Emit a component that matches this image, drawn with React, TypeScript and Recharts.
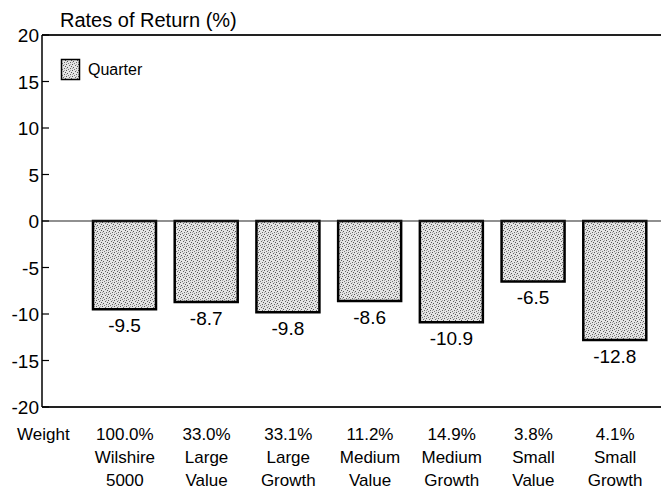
import React from "react";
import {
  BarChart,
  Bar,
  XAxis,
  YAxis,
  Legend,
  LabelList,
  ReferenceLine,
} from "recharts";

const CATEGORIES = ["Wilshire 5000", "Large Value", "Large Growth", "Medium Value", "Medium Growth", "Small Value", "Small Growth"];
const WEIGHTS = ["100.0%", "33.0%", "33.1%", "11.2%", "14.9%", "3.8%", "4.1%"];
const QUARTER = [-9.5, -8.7, -9.8, -8.6, -10.9, -6.5, -12.8];
const Y_TICKS = [-20, -15, -10, -5, 0, 5, 10, 15, 20];

const data = CATEGORIES.map((name, i) => ({ name, weight: WEIGHTS[i], quarter: QUARTER[i] }));

const FONT = "'Liberation Sans', Arial, sans-serif";

const YTick = (props: any) => {
  const { x, y, payload } = props;
  return (
    <g>
      <line x1={x + 3} x2={x + 10} y1={y} y2={y} stroke="#000" strokeWidth={1.2} />
      <text x={x} y={y + 7} textAnchor="end" fontSize={19} fontFamily={FONT} fill="#000">
        {payload.value}
      </text>
    </g>
  );
};

const XTick = (props: any) => {
  const { x, y, index } = props;
  const lines = CATEGORIES[index].split(" ");
  return (
    <text textAnchor="middle" fontSize={17} fontFamily={FONT} fill="#000">
      <tspan x={x} y={y + 33}>{WEIGHTS[index]}</tspan>
      <tspan x={x} y={y + 56}>{lines[0]}</tspan>
      <tspan x={x} y={y + 79}>{lines[1]}</tspan>
    </text>
  );
};

const WeightLabel = (props: any) => {
  const { viewBox } = props;
  return (
    <text x={viewBox.x - 25} y={viewBox.y + 33} fontSize={17} fontFamily={FONT} fill="#000">
      Weight
    </text>
  );
};

const TitleLabel = (props: any) => {
  const { viewBox } = props;
  return (
    <text x={viewBox.x + viewBox.width + 18} y={viewBox.y - 8} fontSize={20} fontFamily={FONT} fill="#000">
      Rates of Return (%)
    </text>
  );
};

const ValueLabel = (props: any) => {
  const { x, y, width, height, value } = props;
  const bottom = Math.max(y, y + height);
  return (
    <text x={x + width / 2} y={bottom + 23} textAnchor="middle" fontSize={19} fontFamily={FONT} fill="#000">
      {value}
    </text>
  );
};

const LegendBox = () => (
  <div style={{ display: "flex", alignItems: "center" }}>
    <svg width={22} height={24}>
      <rect x={1.5} y={1.5} width={18} height={20} fill="url(#stipple)" stroke="#000" strokeWidth={1.5} />
    </svg>
    <span style={{ marginLeft: 6, fontSize: 16, fontFamily: FONT, color: "#000" }}>Quarter</span>
  </div>
);

export default function App() {
  return (
    <div style={{ position: "absolute", left: 0, top: 0, background: "#fff" }}>
      <BarChart
        width={661}
        height={489}
        data={data}
        margin={{ top: 35, right: 0, bottom: 12, left: 0 }}
        barSize={63}
      >
        <defs>
          <pattern id="stipple" width={6} height={6} patternUnits="userSpaceOnUse">
            <rect width={6} height={6} fill="#e4e4e4" />
            <rect x={0} y={0} width={1} height={1} fill="#555" />
            <rect x={3} y={1} width={1} height={1} fill="#666" />
            <rect x={1} y={3} width={1} height={1} fill="#555" />
            <rect x={4} y={4} width={1} height={1} fill="#666" />
            <rect x={2} y={5} width={1} height={1} fill="#777" />
            <rect x={5} y={2} width={1} height={1} fill="#555" />
            <rect x={4} y={0} width={1} height={1} fill="#aaa" />
            <rect x={0} y={4} width={1} height={1} fill="#aaa" />
          </pattern>
        </defs>
        <XAxis
          dataKey="name"
          height={70}
          axisLine={false}
          tickLine={false}
          tickSize={0}
          tickMargin={0}
          interval={0}
          padding={{ left: 42, right: 5 }}
          tick={<XTick />}
          label={{ content: <WeightLabel /> }}
        />
        <YAxis
          width={42}
          domain={[-20, 20]}
          ticks={Y_TICKS}
          interval={0}
          tickSize={0}
          tickMargin={3}
          tickLine={false}
          axisLine={{ stroke: "#000", strokeWidth: 1.5 }}
          tick={<YTick />}
          label={{ content: <TitleLabel /> }}
        />
        <Legend
          layout="vertical"
          verticalAlign="middle"
          align="center"
          content={<LegendBox />}
          wrapperStyle={{ position: "absolute", left: 60, top: 58, width: "auto", height: "auto" }}
        />
        <ReferenceLine y={20} stroke="#222" strokeWidth={2} />
        <ReferenceLine y={-20} stroke="#222" strokeWidth={2} />
        <ReferenceLine y={0} stroke="#222" strokeWidth={1.2} />
        <Bar dataKey="quarter" fill="url(#stipple)" stroke="#000" strokeWidth={2.5} isAnimationActive={false}>
          <LabelList dataKey="quarter" content={<ValueLabel />} />
        </Bar>
      </BarChart>
    </div>
  );
}
